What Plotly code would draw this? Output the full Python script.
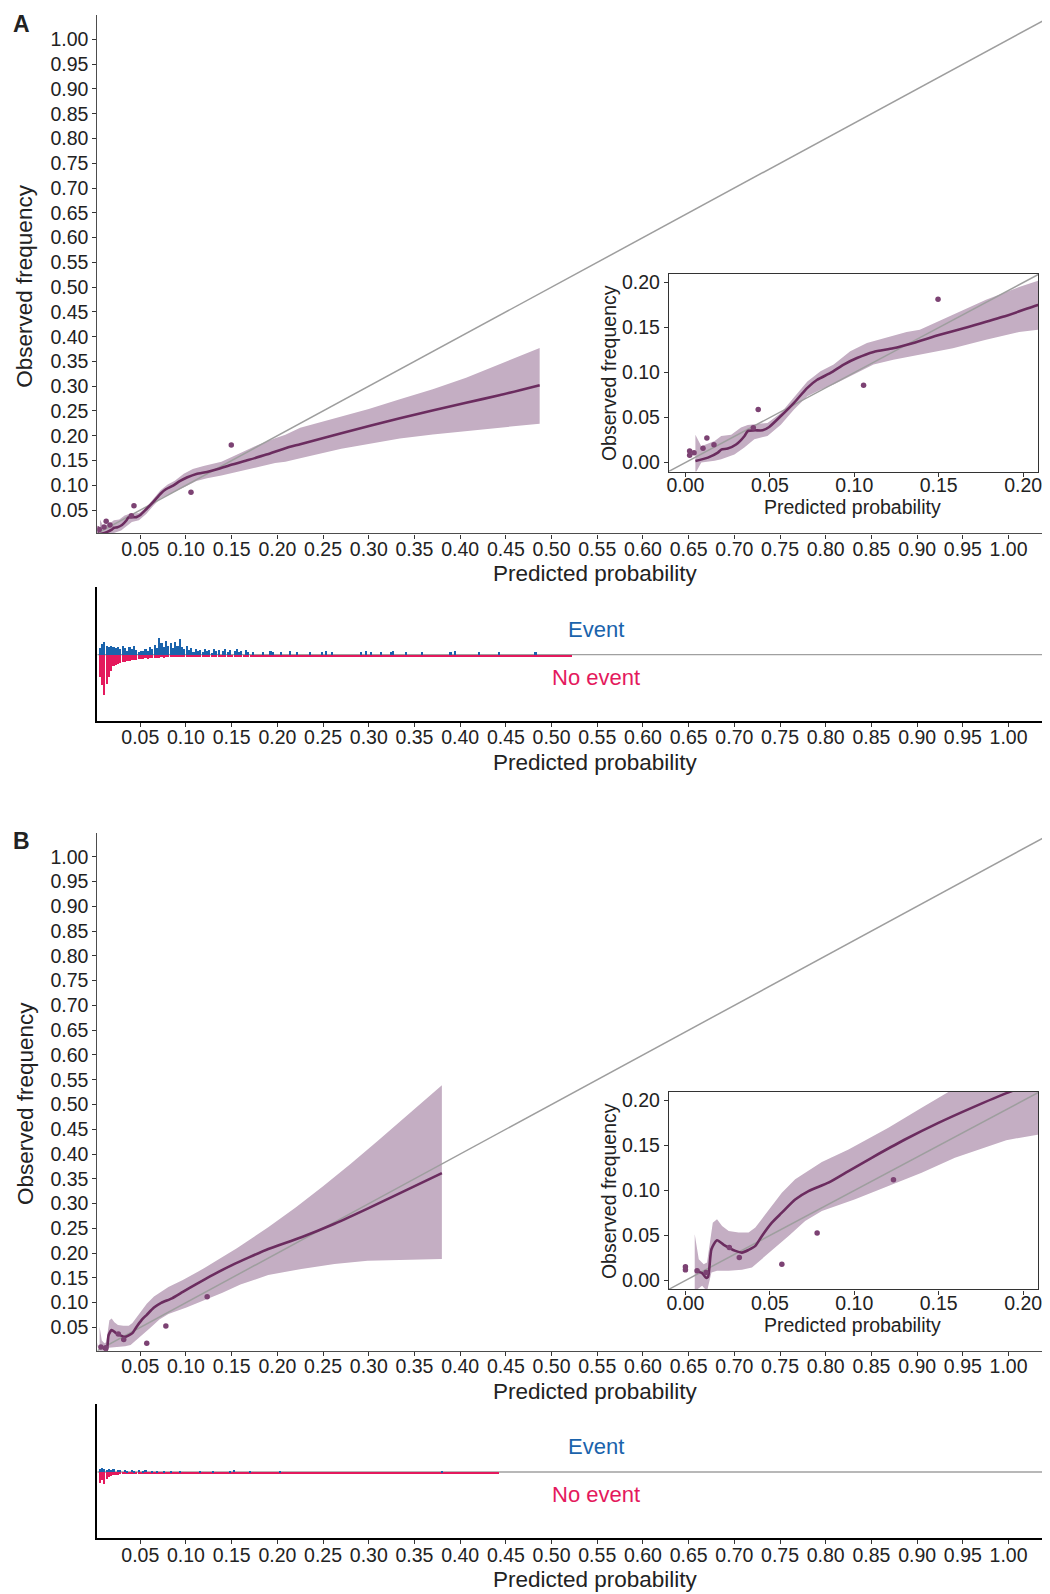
import plotly.graph_objects as go

W, H = 1050, 1594          # browser window
PAGE_MARGIN = 8            # default body margin of the html page
FW, FH = W - PAGE_MARGIN, H - PAGE_MARGIN
FONT = "Liberation Sans, Arial, Helvetica, sans-serif"

# ------------------------------------------------------------------ data
# Panel A : flexible calibration curve with confidence band
curve_a_x = [0.0059, 0.0133, 0.0192, 0.0212, 0.025, 0.030, 0.035, 0.0369, 0.0408, 0.0457,
             0.0496, 0.0565, 0.0643, 0.0722, 0.078, 0.0859, 0.0937, 0.1016, 0.1114, 0.123,
             0.135, 0.1506, 0.168, 0.188, 0.2088, 0.225, 0.27, 0.334, 0.4065, 0.4428, 0.487]
curve_a_y = [0.0018, 0.0055, 0.011, 0.0144, 0.0155, 0.020, 0.0295, 0.035, 0.0358, 0.0358,
             0.0395, 0.0517, 0.0664, 0.083, 0.092, 0.0996, 0.1089, 0.1162, 0.1229, 0.127,
             0.133, 0.142, 0.151, 0.162, 0.175, 0.183, 0.205, 0.2353, 0.2667, 0.2816, 0.302]
ci_a_up_x = [0.0059, 0.0094, 0.0173, 0.0212, 0.0271, 0.0329, 0.0369, 0.0408, 0.0486, 0.0565,
             0.0643, 0.0722, 0.08, 0.0878, 0.0976, 0.1075, 0.1192, 0.131, 0.1388, 0.1584,
             0.178, 0.1976, 0.2088, 0.225, 0.27, 0.30, 0.334, 0.37, 0.4065, 0.4428, 0.487]
ci_a_up_y = [0.031, 0.018, 0.024, 0.0295, 0.031, 0.039, 0.0417, 0.0424, 0.044, 0.055,
             0.072, 0.090, 0.1015, 0.109, 0.1236, 0.133, 0.139, 0.145, 0.1476, 0.164,
             0.181, 0.195, 0.202, 0.216, 0.238, 0.254, 0.2735, 0.294, 0.317, 0.344, 0.377]
ci_a_lo_x = [0.0059, 0.0094, 0.0173, 0.0212, 0.029, 0.0349, 0.0408, 0.0486, 0.0565, 0.0643,
             0.0722, 0.08, 0.0878, 0.0996, 0.1114, 0.1231, 0.1388, 0.1584, 0.178, 0.1976,
             0.2088, 0.225, 0.27, 0.30, 0.334, 0.37, 0.4065, 0.4428, 0.487]
ci_a_lo_y = [-0.012, 0.0, 0.002, 0.0037, 0.009, 0.0166, 0.026, 0.0295, 0.042, 0.059,
             0.0738, 0.081, 0.0867, 0.0978, 0.1089, 0.1144, 0.12, 0.127, 0.1365, 0.145,
             0.1476, 0.1548, 0.1737, 0.184, 0.1943, 0.2025, 0.2097, 0.2164, 0.2245]
pts_a_x = [0.0025, 0.0025, 0.0051, 0.0104, 0.0127, 0.0169, 0.0402, 0.0431, 0.1055, 0.1496]
pts_a_y = [0.0129, 0.0081, 0.011, 0.0159, 0.0273, 0.0199, 0.0387, 0.059, 0.086, 0.1815]

# Panel B
curve_b_x = [0.0059, 0.0099, 0.0122, 0.0134, 0.0154, 0.0187, 0.0227, 0.0296, 0.0335, 0.0374,
             0.0414, 0.0453, 0.0512, 0.0571, 0.065, 0.0729, 0.0847, 0.0966, 0.1103, 0.130,
             0.1498, 0.1695, 0.1901, 0.2263, 0.2625, 0.2987, 0.38]
curve_b_y = [0.0107, 0.0081, 0.003, 0.004, 0.0347, 0.0447, 0.0396, 0.0329, 0.031, 0.034,
             0.0384, 0.0495, 0.0643, 0.0754, 0.090, 0.0994, 0.1087, 0.1216, 0.1364, 0.1567,
             0.1752, 0.1919, 0.2083, 0.232, 0.2592, 0.2898, 0.3615]
ci_b_up_x = [0.0055, 0.0079, 0.0108, 0.0128, 0.0162, 0.0187, 0.0217, 0.0256, 0.0315, 0.0374,
             0.0414, 0.0473, 0.0571, 0.065, 0.0808, 0.0966, 0.1202, 0.1399, 0.1557, 0.19,
             0.22, 0.25, 0.28, 0.31, 0.34, 0.38]
ci_b_up_y = [0.0514, 0.0237, 0.018, 0.02, 0.0643, 0.068, 0.0606, 0.055, 0.0532, 0.0532,
             0.0588, 0.0736, 0.0976, 0.1124, 0.1316, 0.1457, 0.1697, 0.1919, 0.2096, 0.252,
             0.292, 0.335, 0.38, 0.427, 0.475, 0.539]
ci_b_lo_x = [0.0055, 0.0099, 0.0128, 0.0154, 0.0187, 0.0256, 0.0335, 0.0394, 0.0453, 0.0532,
             0.0611, 0.0709, 0.0808, 0.1005, 0.1202, 0.1399, 0.1596, 0.1793, 0.19, 0.2263,
             0.2625, 0.2987, 0.38]
ci_b_lo_y = [-0.012, -0.006, -0.012, 0.0089, 0.0107, 0.0107, 0.0118, 0.0144, 0.0237, 0.0366,
             0.0495, 0.0662, 0.0773, 0.0902, 0.105, 0.1198, 0.1364, 0.1494, 0.156, 0.168,
             0.178, 0.1845, 0.188]
pts_b_x = [0.0, 0.0, 0.0069, 0.0122, 0.026, 0.0319, 0.0571, 0.078, 0.1232]
pts_b_y = [0.0152, 0.0118, 0.0107, 0.0089, 0.0366, 0.0255, 0.0181, 0.0529, 0.112]

# identity line
diag = [-0.05, 1.2]

# Histograms (heights in display units), fine bins of 0.0025 starting at 0.0025
bin_w = 0.0025
bin_start = 0.0025
event_a = [0, 7, 11, 13, 9, 8, 9, 8, 7, 8, 6, 9, 7, 4, 8, 6, 9, 5, 3, 4,
           4, 6, 4, 8, 6, 10, 7, 17, 12, 8, 14, 9, 12, 7, 13, 9, 16, 8, 6, 9,
           5, 7, 3, 6, 4, 5, 3, 6, 4, 5, 2, 6, 4, 5, 0, 4, 6, 3, 5, 0,
           4, 6, 3, 4, 0, 5, 3, 0, 3]
event_a_sparse_x = [0.185, 0.193, 0.196, 0.205, 0.214, 0.222, 0.236, 0.249, 0.254, 0.260,
                    0.292, 0.298, 0.303, 0.314, 0.325, 0.327, 0.341, 0.359, 0.390, 0.395,
                    0.421, 0.443, 0.483]
event_a_sparse_h = [3, 4, 3, 3, 4, 3, 3, 3, 4, 3, 3, 4, 3, 3, 3, 4, 3, 3, 3, 4, 3, 3, 3]
noevent_a = [0, 22, 30, 40, 29, 22, 16, 11, 10, 9, 8, 7, 7, 6, 6, 5, 5, 5, 4, 4,
             4, 3, 4, 3, 3, 3, 3, 3, 2, 3, 2, 2, 2, 2, 2, 2, 2, 2, 2, 2,
             1.5, 1.5, 1.5, 1.5, 1.5, 1.5, 1.5, 1.5, 1.5, 1.5, 1.5, 1.5, 1.5, 1.3, 1.3, 1.3, 1.3, 1.3, 1.3, 1.3,
             1.3, 1.3, 1.3, 1.3, 1.3, 1.3, 1.3, 1.3]
tail_w = 0.01
noevent_a_tail_start = 0.1725
noevent_a_tail = [1.2, 1.2, 1.2, 1.0, 1.2, 1.0, 1.0, 1.2, 1.0, 1.0, 1.0, 1.0, 1.0, 1.0, 1.0, 1.0, 1.0, 1.0,
                  1.0, 1.0, 1.0, 1.0, 1.0, 1.0, 1.0, 1.0, 1.0, 1.0, 1.0, 1.0, 1.0, 1.0, 1.0, 1.0, 1.0]

event_b = [0, 3, 4, 3, 2, 3, 2, 3, 0, 2, 2, 0, 2, 1.5, 0, 2, 1.5, 0, 2, 0,
           1.5, 2, 0, 0, 1.5, 0, 1.5, 0, 0, 1.5, 0, 0, 1.5, 0, 0, 0, 1.5]
event_b_sparse_x = [0.116, 0.13, 0.149, 0.153, 0.171, 0.203, 0.381]
event_b_sparse_h = [1.5, 1.5, 1.5, 2, 1.5, 1.5, 1.5]
noevent_b = [0, 11, 8, 12, 7, 5, 4, 3, 3, 2.5, 2, 2, 1.5, 1.5, 1.5, 1.2, 1.2, 1.2, 1.2, 1.2,
             1.2, 1.2, 1.0, 1.0]
noevent_b_tail_start = 0.0625
noevent_b_tail = [1.0, 1.0, 1.0, 1.0, 1.0, 1.0, 1.0, 1.0, 1.0, 1.0, 1.0, 1.0, 1.0, 1.0, 1.0, 1.0, 1.0, 1.0, 1.0,
                  1.0, 1.0, 1.0, 1.0, 1.0, 1.0, 1.0, 1.0, 1.0, 1.0, 1.0, 1.0, 1.0, 1.0, 1.0, 1.0, 1.0, 1.0, 1.0]

main_ticks = [0.05, 0.10, 0.15, 0.20, 0.25, 0.30, 0.35, 0.40, 0.45, 0.50,
              0.55, 0.60, 0.65, 0.70, 0.75, 0.80, 0.85, 0.90, 0.95, 1.00]
inset_ticks = [0.00, 0.05, 0.10, 0.15, 0.20]

# ------------------------------------------------------------------ styles
PURPLE = "#6B2C5F"
POINT = "#7C4273"
RIBBON = "#C4AEC3"
DIAG = "#9E9E9E"
BLUE = "#1A63AC"
RED = "#E4195D"
TXT = "#222222"


def dom_x(l, r):
    return [(l - PAGE_MARGIN) / FW, (r - PAGE_MARGIN) / FW]


def dom_y(top, bottom):
    return [1 - (bottom - PAGE_MARGIN) / FH, 1 - (top - PAGE_MARGIN) / FH]


def px(x):
    return (x - PAGE_MARGIN) / FW


def py(y):
    return 1 - (y - PAGE_MARGIN) / FH


fig = go.Figure()


def add_calib(xa, ya, cx, cy, ux, uy, lx, ly, ptx, pty, size=5.5):
    fig.add_trace(go.Scatter(x=ux + lx[::-1], y=uy + ly[::-1], fill="toself", fillcolor=RIBBON,
                             mode="lines", line=dict(width=0, color=RIBBON), hoverinfo="skip",
                             xaxis=xa, yaxis=ya, showlegend=False))
    fig.add_trace(go.Scatter(x=diag, y=diag, mode="lines", line=dict(color=DIAG, width=1.5),
                             xaxis=xa, yaxis=ya, showlegend=False))
    fig.add_trace(go.Scatter(x=cx, y=cy, mode="lines",
                             line=dict(color=PURPLE, width=2.6, shape="spline", smoothing=0.6),
                             xaxis=xa, yaxis=ya, showlegend=False))
    fig.add_trace(go.Scatter(x=ptx, y=pty, mode="markers", marker=dict(color=POINT, size=size),
                             xaxis=xa, yaxis=ya, showlegend=False))


def add_bars(xa, ya, heights, start, w, color, sign, fill=0.9):
    xs = [start + (j + 0.5) * w for j in range(len(heights))]
    fig.add_trace(go.Bar(x=xs, y=[sign * h for h in heights], width=w * fill,
                         marker=dict(color=color, line=dict(width=0)),
                         xaxis=xa, yaxis=ya, showlegend=False))


def add_sparse(xa, ya, xs, hs, w, color, sign):
    fig.add_trace(go.Bar(x=xs, y=[sign * h for h in hs], width=w * 0.9,
                         marker=dict(color=color, line=dict(width=0)),
                         xaxis=xa, yaxis=ya, showlegend=False))


def add_hist(xa, ya, ev, ev_sx, ev_sh, ne, ne_tail_start, ne_tail):
    fig.add_shape(type="line", xref=f"{xa} domain", yref=ya, x0=0, x1=1, y0=0, y1=0,
                  line=dict(color="#A0A0A0", width=1.3), layer="below")
    add_bars(xa, ya, ne, bin_start, bin_w, RED, -1)
    add_bars(xa, ya, ne_tail, ne_tail_start, tail_w, RED, -1, fill=1.0)
    add_bars(xa, ya, ev, bin_start, bin_w, BLUE, 1)
    add_sparse(xa, ya, ev_sx, ev_sh, bin_w, BLUE, 1)


# panel A
add_calib("x", "y", curve_a_x, curve_a_y, ci_a_up_x, ci_a_up_y, ci_a_lo_x, ci_a_lo_y, pts_a_x, pts_a_y)
add_calib("x2", "y2", curve_a_x, curve_a_y, ci_a_up_x, ci_a_up_y, ci_a_lo_x, ci_a_lo_y, pts_a_x, pts_a_y)
add_hist("x3", "y3", event_a, event_a_sparse_x, event_a_sparse_h, noevent_a, noevent_a_tail_start, noevent_a_tail)
# panel B
add_calib("x4", "y4", curve_b_x, curve_b_y, ci_b_up_x, ci_b_up_y, ci_b_lo_x, ci_b_lo_y, pts_b_x, pts_b_y)
add_calib("x5", "y5", curve_b_x, curve_b_y, ci_b_up_x, ci_b_up_y, ci_b_lo_x, ci_b_lo_y, pts_b_x, pts_b_y)
add_hist("x6", "y6", event_b, event_b_sparse_x, event_b_sparse_h, noevent_b, noevent_b_tail_start, noevent_b_tail)

TICKFONT = dict(family=FONT, size=19.5, color=TXT)
MAIN_X_RANGE = [0.0032, 1.0410]
MAIN_Y_RANGE = [0.003, 1.0487]


def main_axes(off):
    xa = dict(domain=dom_x(96, 1050), range=MAIN_X_RANGE, tickvals=main_ticks, tickformat=".2f",
              showline=True, linecolor="#4D4D4D", linewidth=1.3, ticks="outside", ticklen=4, tickwidth=1.2,
              tickcolor="#333333", showgrid=False, zeroline=False, tickfont=TICKFONT, fixedrange=True,
              ticklabelstandoff=-6)
    ya = dict(domain=dom_y(13.3 + off, 532.7 + off), range=MAIN_Y_RANGE, tickvals=main_ticks, tickformat=".2f",
              showline=True, linecolor="#4D4D4D", linewidth=1.3, ticks="outside", ticklen=4, tickwidth=1.2,
              tickcolor="#333333", showgrid=False, zeroline=False, tickfont=TICKFONT, fixedrange=True)
    return xa, ya


def inset_axes(off):
    common = dict(tickvals=inset_ticks, tickformat=".2f", showline=True, mirror=True, linecolor="#333333",
                  linewidth=1.3, ticks="outside", ticklen=4, tickwidth=1.2, tickcolor="#333333",
                  showgrid=False, zeroline=False, tickfont=TICKFONT, fixedrange=True)
    xa = dict(domain=dom_x(670.7, 1042.3), range=[-0.0098, 0.209], ticklabelstandoff=-8, **common)
    ya = dict(domain=dom_y(272.3 + off, 470.7 + off), range=[-0.01, 0.21], **common)
    return xa, ya


def hist_axes(off):
    xa = dict(domain=dom_x(96, 1050), range=MAIN_X_RANGE, tickvals=main_ticks, tickformat=".2f",
              showline=True, linecolor="#000000", linewidth=2.2, ticks="outside", ticklen=4, tickwidth=1.2,
              tickcolor="#333333", showgrid=False, zeroline=False, tickfont=TICKFONT, fixedrange=True,
              ticklabelstandoff=-6)
    ya = dict(domain=dom_y(586 + off, 720.7 + off), range=[-66.4, 68.3], showline=True, linecolor="#000000",
              linewidth=2.2, showticklabels=False, ticks="", showgrid=False, zeroline=False, fixedrange=True)
    return xa, ya


OFF_B = 819.4
layout_axes = {}
for n, (xa, ya) in zip([1, 2, 3, 4, 5, 6], [main_axes(0), inset_axes(0), hist_axes(0),
                                            main_axes(OFF_B), inset_axes(820), hist_axes(OFF_B)]):
    sx = "" if n == 1 else str(n)
    xa["anchor"] = "y" + sx
    ya["anchor"] = "x" + sx
    layout_axes["xaxis" + sx] = xa
    layout_axes["yaxis" + sx] = ya

fig.update_layout(**layout_axes)

TITLE = dict(family=FONT, size=22.5, color=TXT)
INSET_TITLE = dict(family=FONT, size=19.5, color=TXT)
ann = []


def text(x, y, s, font, angle=0):
    ann.append(dict(x=px(x), y=py(y), xref="paper", yref="paper", text=s, showarrow=False,
                    xanchor="center", yanchor="middle", font=font, textangle=angle))


for off, lab in [(0, "A"), (OFF_B, "B")]:
    io = 820 if lab == "B" else 0
    text(19.5, 22 + off, f"<b>{lab}</b>", dict(family=FONT, size=23, color=TXT))
    text(23, 284.5 + off, "Observed frequency", TITLE, -90)
    text(597, 573.3 + off, "Predicted probability", TITLE)
    text(597, 762.4 + off, "Predicted probability", TITLE)
    text(610, 372.5 + io, "Observed frequency", INSET_TITLE, -90)
    text(855, 506.7 + io, "Predicted probability", INSET_TITLE)
    text(597.7, 629 + off, "Event", dict(family=FONT, size=22, color=BLUE))
    text(597.7, 677 + off, "No event", dict(family=FONT, size=22, color=RED))

fig.update_layout(width=FW, height=FH, autosize=False, margin=dict(l=0, r=0, t=0, b=0),
                  paper_bgcolor="white", plot_bgcolor="white", annotations=ann,
                  barmode="overlay", bargap=0, font=dict(family=FONT))

fig.write_html("out.html")
